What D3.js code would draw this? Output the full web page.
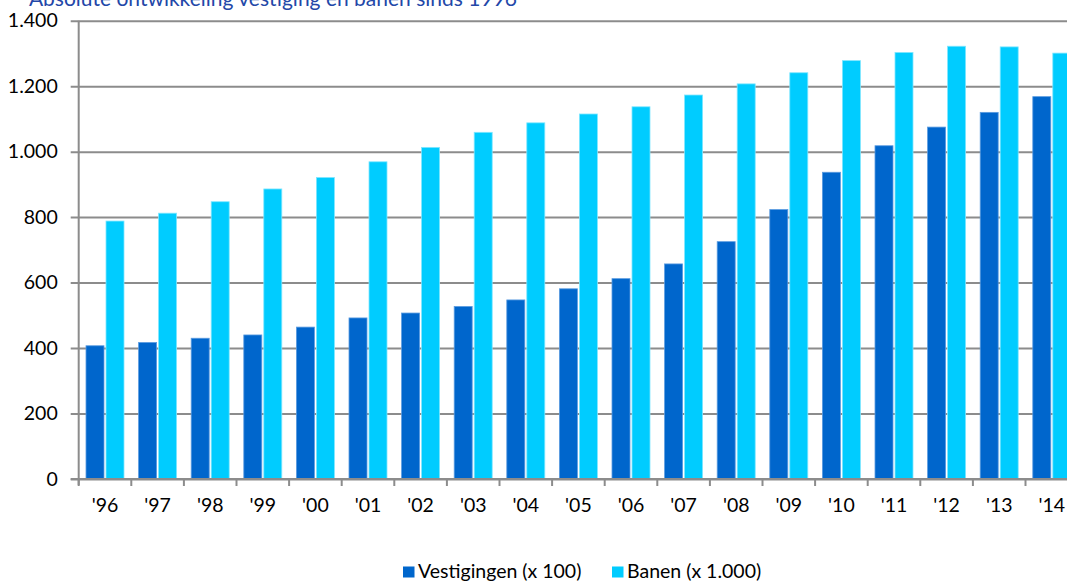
<!DOCTYPE html>
<html>
<head>
<meta charset="utf-8">
<script src="https://cdn.jsdelivr.net/npm/d3@7"></script>
<style>
  html, body { margin: 0; padding: 0; background: #fff; overflow: hidden; }
  svg { display: block; }
</style>
</head>
<body>
<svg id="chart" width="1067" height="581"></svg>
<script>
const title = "Absolute ontwikkeling vestiging en banen sinds 1996";
const years = ["'96","'97","'98","'99","'00","'01","'02","'03","'04","'05","'06","'07","'08","'09","'10","'11","'12","'13","'14"];
const seriesNames = ["Vestigingen (x 100)", "Banen (x 1.000)"];
const vestigingen = [407, 417, 430, 440, 464, 492, 507, 527, 547, 581, 612, 657, 725, 823, 937, 1018, 1075, 1120, 1168];
const banen = [788, 812, 847, 886, 921, 969, 1013, 1059, 1088, 1115, 1137, 1173, 1207, 1241, 1278, 1303, 1322, 1320, 1301];
const yTicks = [0, 200, 400, 600, 800, 1000, 1200, 1400];
const colors = ["#0066cc", "#00ccff"];

const svg = d3.select("#chart");
const fontFamily = "Lato, 'Open Sans', sans-serif";
const fs = 19.5;
const mLeft = 78.7, mRight = 78.7 + 19 * 52.6, mTop = 20.7, mBottom = 479;

const locale = d3.formatLocale({decimal: ",", thousands: ".", grouping: [3], currency: ["€", ""]});
const fmt = locale.format(",d");

const x0 = d3.scaleBand().domain(years).range([mLeft, mRight]).padding(0);
const x1 = d3.scaleBand().domain(seriesNames).range([7.3, 45.3]).paddingInner(0.1);
const y = d3.scaleLinear().domain([0, 1400]).range([mBottom, mTop]);

const data = years.map((yr, i) => ({year: yr, values: [vestigingen[i], banen[i]]}));

// gridlines
const yAxis = d3.axisLeft(y).tickValues(yTicks).tickFormat(fmt).tickSize(-(mRight - mLeft)).tickPadding(14);
const gy = svg.append("g").attr("transform", `translate(${mLeft},0)`).call(yAxis);
gy.select(".domain").remove();
gy.selectAll(".tick line").attr("stroke", "#8c8c8c").attr("stroke-width", 2).attr("x1", -8);
gy.selectAll(".tick text").attr("font-family", fontFamily).attr("font-size", fs).attr("fill", "#000").attr("x", -21);

// bars
const groups = svg.append("g").selectAll("g").data(data).join("g")
  .attr("transform", d => `translate(${x0(d.year)},0)`);
groups.selectAll("rect").data(d => d.values.map((v, k) => ({name: seriesNames[k], v, k}))).join("rect")
  .attr("x", d => x1(d.name))
  .attr("width", x1.bandwidth())
  .attr("y", d => y(d.v))
  .attr("height", d => y(0) - y(d.v))
  .attr("fill", d => colors[d.k])
  .attr("stroke", d => d.k === 0 ? "#5a9be0" : "#7fe6ff")
  .attr("stroke-width", 0.8);

// y axis line
svg.append("line").attr("x1", mLeft).attr("x2", mLeft).attr("y1", mTop).attr("y2", mBottom + 6)
  .attr("stroke", "#8c8c8c").attr("stroke-width", 2);

// x axis
const xAxis = d3.axisBottom(x0).tickSize(0).tickPadding(19);
const gx = svg.append("g").attr("transform", `translate(0,${mBottom})`).call(xAxis);
gx.select(".domain").remove();
gx.selectAll(".tick text").attr("font-family", fontFamily).attr("font-size", fs).attr("fill", "#000");
// x tick marks at band boundaries
svg.append("g").selectAll("line").data(years.concat(["end"])).join("line")
  .attr("x1", (d, i) => mLeft + i * x0.step())
  .attr("x2", (d, i) => mLeft + i * x0.step())
  .attr("y1", mBottom).attr("y2", mBottom + 7)
  .attr("stroke", "#8c8c8c").attr("stroke-width", 2);
// baseline
svg.append("line").attr("x1", mLeft - 8).attr("x2", mRight).attr("y1", mBottom).attr("y2", mBottom)
  .attr("stroke", "#8c8c8c").attr("stroke-width", 2);

// title (partially cut off at top-left, as in the reference)
svg.append("text").attr("x", 517).attr("y", 6).attr("text-anchor", "end")
  .attr("font-family", fontFamily).attr("font-size", 21)
  .attr("fill", "#2347a8").text(title);

// legend
const legendItems = [{name: seriesNames[0], x: 403}, {name: seriesNames[1], x: 612}];
const lg = svg.append("g").selectAll("g").data(legendItems).join("g")
  .attr("transform", d => `translate(${d.x},566.5)`);
lg.append("rect").attr("width", 11.5).attr("height", 11).attr("fill", (d, i) => colors[i]);
lg.append("text").attr("x", 15).attr("y", 11.5).attr("font-family", fontFamily).attr("font-size", fs)
  .attr("fill", "#000").text(d => d.name);
</script>
</body>
</html>
